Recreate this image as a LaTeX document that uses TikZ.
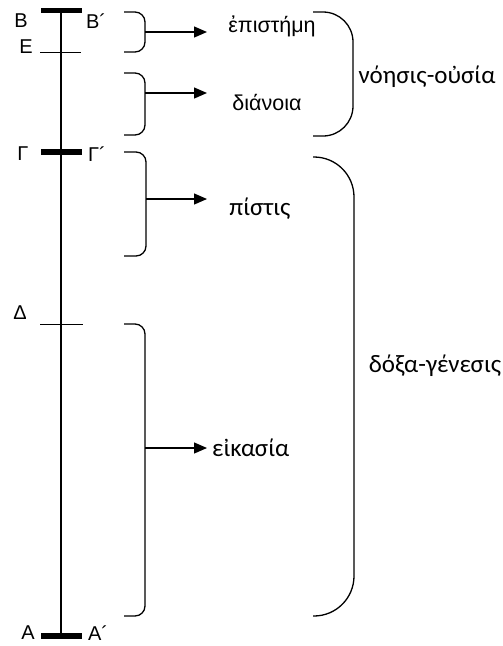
\documentclass[tikz,border=0pt]{standalone}
\usepackage{fontspec}
\setmainfont{Liberation Sans}
\newfontfamily\calfont{Carlito}
\usetikzlibrary{arrows.meta, positioning}
\tikzset{
    axisline/.style={
        draw=black,
        line width=2.6pt
    },
    endbar/.style={
        draw=black,
        line width=5.5pt
    },
    tickline/.style={
        draw=black,
        line width=1pt
    },
    smallbrace/.style={
        draw=black,
        line width=1.3pt,
        rounded corners=10pt
    },
    bigbrace/.style={
        draw=black,
        line width=1.3pt,
        rounded corners=30pt
    },
    pointer/.style={
        draw=black,
        line width=1.3pt,
        -{Triangle[length=13pt, width=11pt]}
    },
    letter/.style={
        font=\fontsize{20}{24}\selectfont,
        inner sep=0pt
    },
    term/.style={
        font=\fontsize{21.5}{25}\selectfont,
        inner sep=0pt
    },
    cterm/.style={
        font=\calfont\fontsize{25}{30}\selectfont,
        inner sep=0pt
    }
}
\begin{document}
\begin{tikzpicture}[x=1pt, y=-1pt]
\useasboundingbox (0,0) rectangle (503,646);

% points on the line
\coordinate (B) at (61,10.5);
\coordinate (E) at (61,52);
\coordinate (G) at (61,152);
\coordinate (D) at (61,324);
\coordinate (A) at (61,636);

\draw[axisline] (B) -- (A);
\draw[endbar] ([xshift=-20pt]B) -- ([xshift=21pt]B);
\draw[endbar] ([xshift=-20pt]G) -- ([xshift=21pt]G);
\draw[endbar] ([xshift=-20pt]A) -- ([xshift=21pt]A);
\draw[tickline] ([xshift=-21pt]E) -- ([xshift=20pt]E);
\draw[tickline] ([xshift=-21pt]D) -- ([xshift=22pt]D);

\node[letter] (lB) at (21,21) {Β};
\node[letter] (lB2) at (96,21) {Β´};
\node[letter] (lE) at (26,47) {Ε};
\node[letter] (lG) at (23,154) {Γ};
\node[letter] (lG2) at (97,154) {Γ´};
\node[letter] (lD) at (20,313) {Δ};
\node[letter] (lA) at (28,633) {Α};
\node[letter] (lA2) at (98,633) {Α´};

% small braces
\draw[smallbrace] (124,12) -- (145,12) -- (145,52) -- (124,52);
\draw[smallbrace] (124,73) -- (145,73) -- (145,135) -- (124,135);
\draw[smallbrace] (124,152) -- (146,152) -- (146,256) -- (124,256);
\draw[smallbrace] (124,324) -- (145,324) -- (145,616) -- (124,616);
\coordinate (t1) at (145,32);
\coordinate (t2) at (145,93);
\coordinate (t3) at (146,199);
\coordinate (t4) at (145,448);
\coordinate (h1) at (207,32);
\coordinate (h2) at (207,93);
\coordinate (h3) at (207,199);
\coordinate (h4) at (207,448);

\node[term] (episteme) at (272,26) {ἐπιστήμη};
\node[term] (dianoia) at (267,103) {διάνοια};
\node[cterm] (pistis) at (260,209) {πίστις};
\node[cterm, anchor=west] (eikasia) at (212,448) {εἰκασία};

\draw[pointer] (t1) -- (h1);
\draw[pointer] (t2) -- (h2);
\draw[pointer] (t3) -- (h3);
\draw[pointer] (t4) -- (h4);

% big braces
\draw[bigbrace] (313,12) -- (353,12) -- (353,136) -- (313,136);
\draw[bigbrace, rounded corners=40pt] (313,157) -- (354,157) -- (354,616) -- (313,616);

\node[cterm] (noesis) at (427,77) {νόησις-οὐσία};
\node[cterm] (doxa) at (435,366) {δόξα-γένεσις};

\end{tikzpicture}
\end{document}
